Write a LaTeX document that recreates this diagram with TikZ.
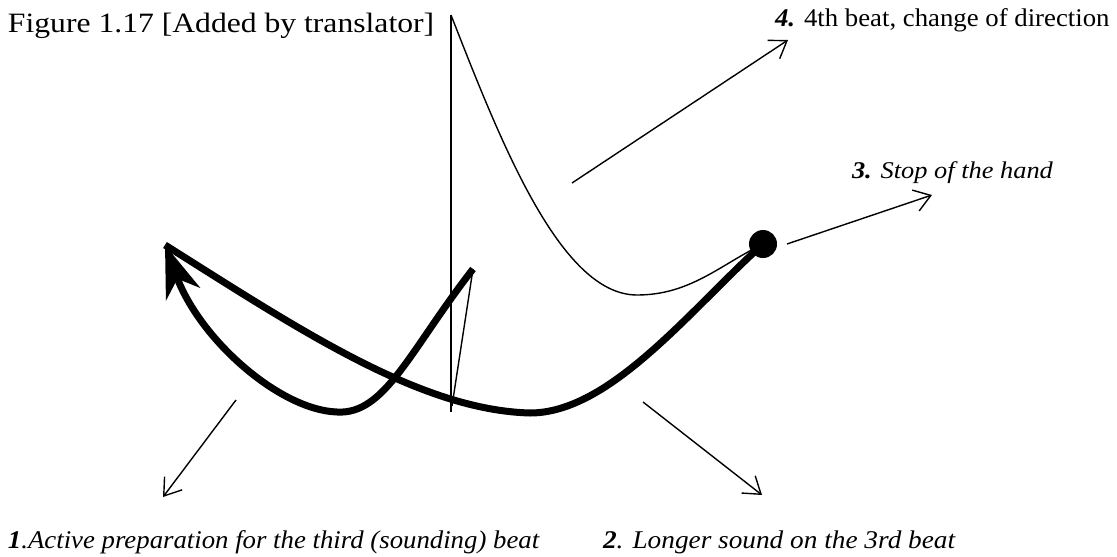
\documentclass[tikz,border=0pt]{standalone}
\usepackage{fontspec}
\setmainfont{Liberation Serif}
\usetikzlibrary{arrows.meta}
\newcommand{\lab}[3]{\scalebox{#1}[1]{\fontsize{#2}{#2}\selectfont #3}}
\tikzset{
  thinline/.style={line width=1.4pt, black},
  thickline/.style={line width=7pt, black, line cap=butt},
  pointer/.style={line width=1.4pt, -{Straight Barb[length=16pt,width=22pt,line width=1.4pt]}},
  lbl/.style={anchor=base west, inner sep=0pt, outer sep=0pt},
}
\begin{document}
\begin{tikzpicture}[x=1pt,y=-1pt]
\useasboundingbox (0,0) rectangle (1117,557);
% key points
\coordinate (vtop) at (451,15);
\coordinate (vbot) at (451,412);
\coordinate (slopetop) at (473,269);
\coordinate (slopebot) at (452,406);
\coordinate (tip) at (165,245);
\coordinate (low1) at (337,412);
\coordinate (low2) at (530,413);
\coordinate (low3) at (637,295);
\node[circle, fill=black, minimum size=28pt, inner sep=0pt] (dot) at (763,244) {};
% vertical line and thin lines
\draw[thinline] (vtop) -- (vbot);
\draw[thinline] (slopetop) -- (slopebot);
\draw[thinline] (vtop) .. controls (500,140) and (560,295) .. (low3)
  .. controls (690,295) and (720,265) .. (dot.center);
% thick curve 2: tip -> dot
\draw[thickline] (tip) .. controls (300,330) and (420,410) .. (low2)
  .. controls (610,413) and (690,310) .. (dot.center);
% thick curve 1 with arrow
\draw[thickline, -{Stealth[length=52pt,width=36pt,inset=16pt]}] (slopetop) .. controls (410,350) and (385,415) .. (low1)
  .. controls (280,410) and (200,340) .. (tip);
% pointers
\coordinate (a4s) at (572,183);
\coordinate (a4e) at (788,40);
\coordinate (a3s) at (787,244);
\coordinate (a3e) at (932,195);
\coordinate (a1s) at (236,400);
\coordinate (a1e) at (163,497);
\coordinate (a2s) at (643,402);
\coordinate (a2e) at (762,495);
\draw[pointer] (a4s) -- (a4e);
\draw[pointer] (a3s) -- (a3e);
\draw[pointer] (a1s) -- (a1e);
\draw[pointer] (a2s) -- (a2e);
% labels
\node[lbl] (title) at (8,32) {\lab{1.13}{28}{Figure 1.17 [Added by translator]}};
\node[lbl] (l4) at (775,26) {\lab{1.05}{25.5}{\textbf{\textit{4.}} 4th beat, change of direction}};
\node[lbl] (l3) at (852,178) {\lab{1.1}{24}{\textbf{\textit{3.}} \textit{Stop of the hand}}};
\node[lbl] (l1) at (8,548) {\lab{1.05}{25.5}{\textbf{\textit{1}}\textit{.Active preparation for the third (sounding) beat}}};
\node[lbl] (l2) at (603,548) {\lab{1.07}{25.5}{\textbf{\textit{2}}\textit{. Longer sound on the 3rd beat}}};
\end{tikzpicture}
\end{document}
